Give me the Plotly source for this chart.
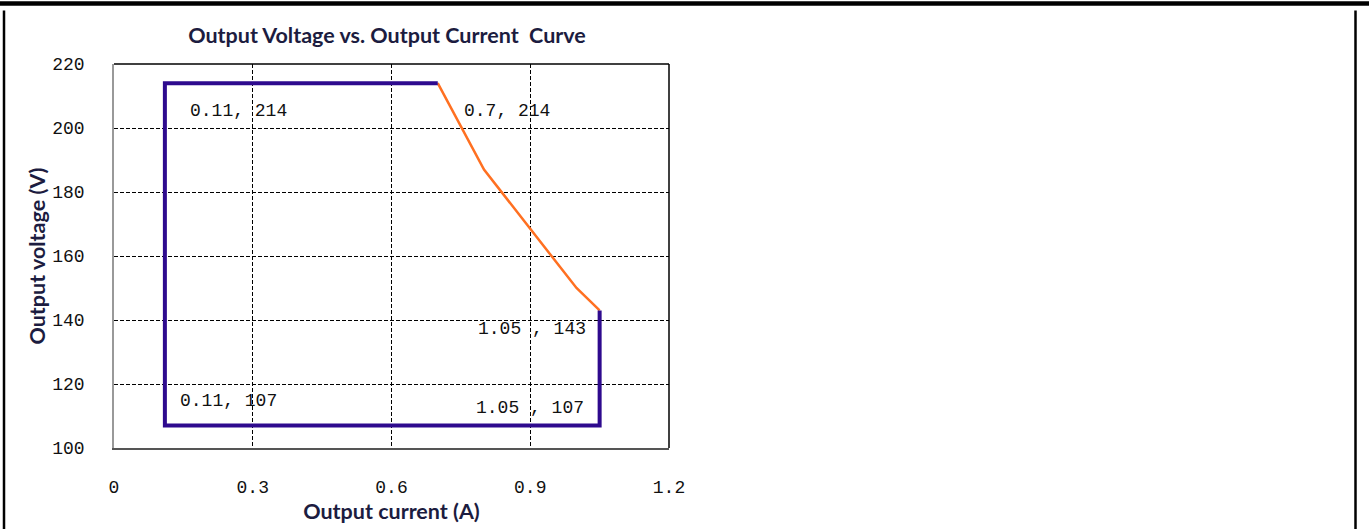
import plotly.graph_objects as go

# Operating envelope (rectangle part) and the constant-power roll-off curve
envelope_current = [0.7, 0.11, 0.11, 1.05, 1.05]
envelope_voltage = [214, 214, 107, 107, 143]

rolloff_current = [0.7, 0.8, 1.0, 1.05]
rolloff_voltage = [214, 187, 150, 143]

# Corner point labels
label_text = ["0.11, 214", "0.7, 214", "1.05 , 143", "1.05 , 107", "0.11, 107"]
label_x = [0.11, 0.7, 1.05, 1.05, 0.11]
label_y = [214, 214, 143, 107, 107]

x_ticks = [0, 0.3, 0.6, 0.9, 1.2]
x_tick_text = ["0", "0.3", "0.6", "0.9", "1.2"]
y_ticks = [100, 120, 140, 160, 180, 200, 220]

W, H = 1369, 529
L, R, T, B = 114, 669, 64, 451

mono = "Liberation Mono, DejaVu Sans Mono, monospace"
heading = "Lato, Open Sans, Liberation Sans, sans-serif"
heading_color = "#1c1c40"

fig = go.Figure()
fig.add_trace(go.Scatter(
    x=rolloff_current, y=rolloff_voltage, mode="lines",
    line=dict(color="#FF7021", width=2.5), hoverinfo="skip", showlegend=False))
fig.add_trace(go.Scatter(
    x=envelope_current, y=envelope_voltage, mode="lines",
    line=dict(color="#2E0A8E", width=4), hoverinfo="skip", showlegend=False))

# label offsets (pixels) relative to each corner point
offsets = [
    dict(xanchor="left", xshift=23, yshift=-28),
    dict(xanchor="left", xshift=24, yshift=-28),
    dict(xanchor="right", xshift=-12, yshift=-19),
    dict(xanchor="right", xshift=-14, yshift=18),
    dict(xanchor="left", xshift=13, yshift=25),
]
for t, x, y, o in zip(label_text, label_x, label_y, offsets):
    fig.add_annotation(x=x, y=y, text=t, showarrow=False, yanchor="middle",
                       font=dict(family=mono, size=18, color="#111"), **o)


def px_x(p):
    return (p - L) / (R - L)


def px_y(p):
    return (B - p) / (B - T)


# page frame: heavy rule on top, thin rules on the sides
frame = [
    dict(x0=px_x(0), x1=px_x(W), y0=px_y(3), y1=px_y(3), w=4.5),
    dict(x0=px_x(4), x1=px_x(4), y0=px_y(10), y1=px_y(W), w=2.5),
    dict(x0=px_x(1355.5), x1=px_x(1355.5), y0=px_y(10), y1=px_y(W), w=2.5),
]
for f in frame:
    fig.add_shape(type="line", xref="paper", yref="paper",
                  x0=f["x0"], x1=f["x1"], y0=f["y0"], y1=f["y1"],
                  line=dict(color="black", width=f["w"]))

# top and right border of the plot box
fig.add_shape(type="line", xref="paper", yref="paper", x0=0, x1=1, y0=1, y1=1,
              line=dict(color="black", width=1.5))
fig.add_shape(type="line", xref="paper", yref="paper", x0=1, x1=1, y0=0, y1=1,
              line=dict(color="black", width=1.5))

fig.update_layout(
    width=W, height=H,
    margin=dict(l=L, r=W - R, t=T, b=H - B, pad=0),
    paper_bgcolor="white", plot_bgcolor="white",
    title=dict(text="<b>Output Voltage vs. Output Current  Curve</b>",
               x=387 / W, xanchor="center",
               y=1 - 35 / H, yanchor="middle",
               font=dict(family=heading, size=21.5, color=heading_color)),
    xaxis=dict(range=[0, 1.2], tickvals=x_ticks, ticktext=x_tick_text,
               showgrid=True, gridcolor="black", gridwidth=1, griddash="4px,2px",
               zeroline=False, showline=True, linecolor="#555", linewidth=1.5,
               ticks="", ticklabelstandoff=22,
               tickfont=dict(family=mono, size=18, color="#111"),
               title=dict(text="<b>Output current (A)</b>", standoff=4,
                          font=dict(family=heading, size=21.5, color=heading_color))),
    yaxis=dict(range=[100, 220], tickvals=y_ticks,
               showgrid=True, gridcolor="black", gridwidth=1, griddash="4px,2px",
               zeroline=False, showline=True, linecolor="#999", linewidth=1.5,
               ticks="", ticklabelstandoff=24,
               tickfont=dict(family=mono, size=18, color="#111"),
               title=dict(text="<b>Output voltage (V)</b>", standoff=1,
                          font=dict(family=heading, size=21.5, color=heading_color))),
)

fig.write_html("out.html")
